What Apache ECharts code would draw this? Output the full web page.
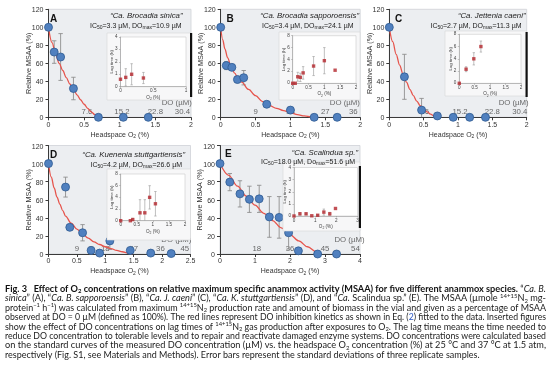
<!DOCTYPE html>
<html><head><meta charset="utf-8">
<script src="https://cdn.jsdelivr.net/npm/echarts@6/dist/echarts.min.js"></script>
<style>
html,body{margin:0;padding:0;background:#fff}
#wrap{position:relative;width:554px;height:366px}
#c{position:absolute;left:0;top:0;width:554px;height:366px}
#ov{position:absolute;left:0;top:0;width:554px;height:366px;pointer-events:none;z-index:5}
.tl{position:absolute;transform:translate(-100%,-50%);white-space:nowrap;line-height:1;font-family:"Liberation Sans",Arial,sans-serif}
</style>
</head><body><div id="wrap"><div id="c"></div><div id="ov"></div></div>
<script>
// ---------- DATA ----------
const msaaTicks = [0, 20, 40, 60, 80, 100, 120];
const lagTicks4 = [0, 1, 2, 3, 4];
const lagTicks8 = [0, 2, 4, 6, 8];

// Panel A  "Ca. Brocadia sinica"
const aO2 = [0, 0.08, 0.17, 0.35, 0.70, 1.05, 1.40];
const aMsaa = [100, 72.5, 67, 32, 0, 0, 0];
const aErr = [0, 12.5, 26, 12.5, 0, 0, 0];
const aCurveO2 = [0, 0.05, 0.1, 0.15, 0.2, 0.25, 0.3, 0.35, 0.4, 0.45, 0.5, 0.55, 0.6, 0.65, 0.7, 0.72];
const aCurve = [100, 83, 70, 60, 52, 44, 37, 31, 25, 19.5, 14.5, 10, 6, 3, 0.8, 0];
const aLagO2 = [0, 0.08, 0.17, 0.35];
const aLag = [0.6, 0.75, 1.0, 0.7];
const aLagErr = [0, 0.7, 0.85, 0.45];
const aDoX = [0.54, 1.03, 1.5, 1.88];
const aDoLabels = ['7.6', '15.2', '22.8', '30.4'];

// Panel B  "Ca. Brocadia sapporoensis"
const bO2 = [0, 0.08, 0.16, 0.24, 0.33, 0.66, 1.0, 1.34, 1.67];
const bMsaa = [100, 57.5, 55.5, 42, 44, 14.5, 8, 0, 0];
const bErr = [0, 4.5, 2.5, 3.5, 8, 2.5, 2, 0, 0];
const bCurveO2 = [0, 0.03, 0.06, 0.1, 0.15, 0.2, 0.25, 0.3, 0.4, 0.5, 0.6, 0.7, 0.8, 0.9, 1.0, 1.1, 1.2, 1.3, 1.34];
const bCurve = [100, 86, 76, 66, 56, 49, 43.5, 39, 31, 24, 17.5, 13, 10, 7.5, 5, 3, 1.5, 0.4, 0];
const bLagO2 = [0, 0.08, 0.16, 0.24, 0.33, 0.66, 1.0, 1.34];
const bLag = [0, 0, 1.1, 1.0, 1.75, 2.9, 3.8, 2.2];
const bLagErr = [0, 0, 0.75, 0.7, 1.05, 1.6, 2.2, 0];
const bDoX = [0.5, 1.0, 1.5, 1.9];
const bDoLabels = ['9', '18', '27', '36'];

// Panel C  "Ca. Jettenia caeni"
const cO2 = [0, 0.22, 0.47, 0.70, 0.93, 1.17, 1.40];
const cMsaa = [100, 45, 8, 1.5, 0, 0, 0];
const cErr = [0, 25, 13, 0, 0, 0, 0];
const cCurveO2 = [0, 0.05, 0.1, 0.15, 0.2, 0.25, 0.3, 0.35, 0.4, 0.45, 0.5, 0.55, 0.6, 0.65, 0.7, 0.75];
const cCurve = [100, 84, 70, 58, 48, 39, 31, 24, 18, 13, 9, 6, 3.5, 1.8, 0.6, 0];
const cLagO2 = [0, 0.22, 0.47, 0.70];
const cLag = [0, 2.3, 4.0, 6.0];
const cLagErr = [0, 0.4, 1.0, 0.9];
const cDoX = [0.5, 1.03, 1.5, 1.9];
const cDoLabels = ['7.6', '15.2', '22.8', '30.4'];

// Panel D  "Ca. Kuenenia stuttgartiensis"
const dO2 = [0, 0.30, 0.375, 0.60, 0.75, 0.90, 1.08, 1.44, 1.80, 2.16];
const dMsaa = [100, 74, 29.5, 23.5, 4, 1, 14.5, 4, 1, 0.5];
const dErr = [0, 11, 3, 9, 4, 0, 9.5, 2, 0, 0];
const dCurveO2 = [0, 0.05, 0.1, 0.15, 0.2, 0.25, 0.3, 0.4, 0.5, 0.6, 0.7, 0.8, 0.9, 1.0, 1.1, 1.2, 1.3, 1.4, 1.48];
const dCurve = [100, 85, 73, 63, 55, 48, 42, 34, 27.5, 22, 17.5, 13.5, 10.5, 8, 6, 4, 2.5, 1, 0];
const dLagO2 = [0, 0.30, 0.375, 0.60, 0.75, 0.90, 1.08];
const dLag = [0, 0, 0.2, 1.35, 1.35, 4.0, 2.9];
const dLagErr = [0, 0, 0.2, 2.25, 2.25, 2.0, 2.1];
const dDoX = [0.5, 1.0, 1.5, 1.97, 2.4];
const dDoLabels = ['9', '18', '27', '36', '45'];

// Panel E  "Ca. Scalindua sp."
const eO2 = [0, 0.28, 0.57, 0.84, 1.12, 1.41, 1.69, 1.96, 2.24, 2.79, 3.33];
const eMsaa = [100, 79.5, 66.5, 60.5, 61, 41, 40.5, 23.5, 3.5, 0, 0];
const eErr = [0, 9.5, 14.5, 14.5, 15, 22.5, 23, 18, 3, 0, 0];
const eCurveO2 = [0, 0.25, 0.5, 0.75, 1.0, 1.25, 1.5, 1.75, 2.0, 2.25, 2.5, 2.75, 2.87];
const eCurve = [100, 87, 75, 64, 54, 45, 37, 29, 21.5, 14.5, 8, 2.5, 0];
const eLagO2 = [0, 0.28, 0.57, 0.84, 1.12, 1.41, 1.69, 1.96];
const eLag = [0, 0.18, 0.18, 0.02, 0.06, 0.32, 0.18, 0.62];
const eLagErr = [0, 0.1, 0.08, 0, 0.05, 0.25, 0.12, 0];
const eDoX = [1.05, 2.0, 3.0, 3.87];
const eDoLabels = ['18', '36', '45', '54'];

// ---------- LAYOUT / STYLE ----------
const FONT = '"Liberation Sans", Arial, sans-serif';
const CAPFONT = 'Lato, "Liberation Sans", sans-serif';
const DO_NUM_Y = 6;

const panels = [
  {o2:aO2, v:aMsaa, e:aErr, cx:aCurveO2, cy:aCurve, lx:aLagO2, ly:aLag, le:aLagErr, dx:aDoX, dl:aDoLabels, doAt:[1.8,15.5],
   xmax:2, xint:0.5, ixmax:1, ixint:0.5, iymax:4, iyint:1, iticks:lagTicks4,
   grid:{left:48.5,top:9.3,width:142.5,height:108}, igrid:{left:120.5,top:37,width:65.5,height:49.7},
   box:[107,33,84,67], bar:[190,33,2.2,64],
   letter:'A', letterAt:[50,19.5], species:'“Ca. Brocadia sinica”', spAt:[182.5,16],
   ic:'IC{s|50}=3.3 µM, DO{s|max}=10.9 µM', icAt:[181.5,26]},
  {o2:bO2, v:bMsaa, e:bErr, cx:bCurveO2, cy:bCurve, lx:bLagO2, ly:bLag, le:bLagErr, dx:bDoX, dl:bDoLabels, doAt:[1.78,15.5],
   xmax:2, xint:0.5, ixmax:2, ixint:0.5, iymax:8, iyint:2, iticks:lagTicks8,
   grid:{left:220.7,top:9.3,width:139.5,height:108}, igrid:{left:292.7,top:35.7,width:63.3,height:47.6},
   box:[279,32,81,68], bar:null,
   letter:'B', letterAt:[226.5,19.5], species:'“Ca. Brocadia sapporoensis”', spAt:[359,16],
   ic:'IC{s|50}=3.4 µM, DO{s|max}=24.1 µM', icAt:[353.5,26]},
  {o2:cO2, v:cMsaa, e:cErr, cx:cCurveO2, cy:cCurve, lx:cLagO2, ly:cLag, le:cLagErr, dx:cDoX, dl:cDoLabels, doAt:[1.81,15.5],
   xmax:2, xint:0.5, ixmax:2, ixint:0.5, iymax:8, iyint:2, iticks:lagTicks8,
   grid:{left:389.3,top:9.3,width:137.4,height:108}, igrid:{left:459.3,top:34.3,width:61.7,height:49},
   box:[445,31,81.7,65], bar:[525.5,32,2.2,65],
   letter:'C', letterAt:[395,19.5], species:'“Ca. Jettenia caeni”', spAt:[525.5,16],
   ic:'IC{s|50}=2.7 µM, DO{s|max}=11.3 µM', icAt:[521.5,26]},
  {o2:dO2, v:dMsaa, e:dErr, cx:dCurveO2, cy:dCurve, lx:dLagO2, ly:dLag, le:dLagErr, dx:dDoX, dl:dDoLabels, doAt:[2.25,16],
   xmax:2.5, xint:0.5, ixmax:2, ixint:0.5, iymax:8, iyint:2, iticks:lagTicks8,
   grid:{left:48.5,top:145.5,width:142,height:108.5}, igrid:{left:120.7,top:174,width:64.3,height:46.7},
   box:[107,169,83.5,71], bar:null,
   letter:'D', letterAt:[50,155.5], species:'“Ca. Kuenenia stuttgartiensis”', spAt:[185,155],
   ic:'IC{s|50}=4.2 µM, DO{s|max}=26.6 µM', icAt:[182,165]},
  {o2:eO2, v:eMsaa, e:eErr, cx:eCurveO2, cy:eCurve, lx:eLagO2, ly:eLag, le:eLagErr, dx:eDoX, dl:eDoLabels, doAt:[3.7,16],
   xmax:4, xint:1, ixmax:3, ixint:1, iymax:4, iyint:1, iticks:lagTicks4,
   grid:{left:220,top:145.5,width:140,height:108.5}, igrid:{left:294,top:167.5,width:63.5,height:48.5},
   box:[283,162,77,69], bar:[358.8,166,2.2,62],
   letter:'E', letterAt:[225,154.5], species:'“Ca. Scalindua sp.”', spAt:[358,153],
   ic:'IC{s|50}=18.0 µM, Do{s|max}=51.6 µM', icAt:[355,162]}
];

function errRender(cap, color, w) {
  return function (params, api) {
    const x = api.value(0), y = api.value(1), e = api.value(2);
    if (!e) return {type: 'group', children: []};
    const t = api.coord([x, y + e]), b = api.coord([x, y - e]);
    const st = {stroke: color, lineWidth: w};
    return {type: 'group', children: [
      {type: 'line', shape: {x1: t[0], y1: t[1], x2: b[0], y2: b[1]}, style: st},
      {type: 'line', shape: {x1: t[0] - cap, y1: t[1], x2: t[0] + cap, y2: t[1]}, style: st},
      {type: 'line', shape: {x1: b[0] - cap, y1: b[1], x2: b[0] + cap, y2: b[1]}, style: st}
    ]};
  };
}

const subRich = (fs) => ({s: {fontSize: fs, lineHeight: fs, verticalAlign: 'bottom', fontFamily: FONT, color: '#333', fill: '#333'}});

const grids = [], xAxes = [], yAxes = [], series = [], graphics = [];
const AX = '#3a3a3a';

panels.forEach((p, i) => {
  grids.push(Object.assign({show: true, backgroundColor: '#eceef1', borderColor: '#cfd2d7', borderWidth: 0.8}, p.grid));
  xAxes.push({type: 'value', gridIndex: i, min: 0, max: p.xmax, interval: p.xint,
    axisLine: {show: true, onZero: false, lineStyle: {color: AX, width: 1}},
    axisTick: {show: true, length: 3, lineStyle: {color: AX}}, splitLine: {show: false},
    axisLabel: {fontSize: 7, color: '#333', margin: 4, fontFamily: FONT},
    name: 'Headspace O{s|2} (%)', nameLocation: 'middle', nameGap: 13,
    nameTextStyle: {fontSize: 7, color: '#333', fontFamily: FONT, lineHeight: 9, rich: subRich(5)}});
  yAxes.push({type: 'value', gridIndex: i, min: 0, max: 120, interval: 20,
    axisLine: {show: true, lineStyle: {color: AX, width: 1}},
    axisTick: {show: true, length: 3, lineStyle: {color: AX}}, splitLine: {show: false},
    axisLabel: {show: false},
    name: 'Relative MSAA (%)', nameLocation: 'middle', nameGap: 16, nameRotate: 90,
    nameTextStyle: {fontSize: 7.2, color: '#333', fontFamily: FONT}});
  series.push({type: 'custom', xAxisIndex: i, yAxisIndex: i, clip: true, silent: true, z: 2,
    renderItem: errRender(2.2, '#8e8e8e', 0.9), encode: {x: 0, y: 1},
    data: p.o2.map((x, k) => [x, p.v[k], p.e[k]])});
  series.push({type: 'scatter', xAxisIndex: i, yAxisIndex: i, symbolSize: 0, silent: true, z: 1,
    label: {show: true, position: 'inside', formatter: '{b}', fontSize: 7.8, color: '#444', fontFamily: FONT},
    data: p.dx.map((x, k) => ({value: [x, DO_NUM_Y], name: p.dl[k]})).concat([{value: p.doAt, name: 'DO (µM)'}])});
  series.push({type: 'line', xAxisIndex: i, yAxisIndex: i, symbol: 'none', smooth: 0.35, smoothMonotone: 'x', silent: true, z: 3,
    lineStyle: {color: '#e6544c', width: 1.3}, data: p.cx.map((x, k) => [x, p.cy[k]])});
  series.push({type: 'scatter', xAxisIndex: i, yAxisIndex: i, symbolSize: 8, silent: true, z: 4,
    itemStyle: {color: '#5080bf', borderColor: '#2f5a92', borderWidth: 0.8, opacity: 1},
    data: p.o2.map((x, k) => [x, p.v[k]])});
  graphics.push({type: 'rect', z: 5, shape: {x: p.box[0], y: p.box[1], width: p.box[2], height: p.box[3]},
    style: {fill: '#f7f7f8', stroke: '#d6d6d6', lineWidth: 0.6}});
  if (p.bar) graphics.push({type: 'rect', z: 10, shape: {x: p.bar[0], y: p.bar[1], width: p.bar[2], height: p.bar[3]}, style: {fill: '#111'}});
  graphics.push({type: 'text', z: 10, x: p.letterAt[0], y: p.letterAt[1],
    style: {text: p.letter, fontSize: 10, fontWeight: 'bold', fontFamily: FONT, fill: '#111', align: 'left', verticalAlign: 'middle'}});
  graphics.push({type: 'text', z: 10, x: p.spAt[0], y: p.spAt[1],
    style: {text: p.species, fontSize: 7.8, fontStyle: 'italic', fontFamily: FONT, fill: '#222', align: 'right', verticalAlign: 'middle'}});
  graphics.push({type: 'text', z: 10, x: p.icAt[0], y: p.icAt[1],
    style: {text: p.ic, fontSize: 7, fontFamily: FONT, fill: '#222', align: 'right', verticalAlign: 'middle', lineHeight: 9,
      rich: {s: {fontSize: 5, lineHeight: 5, verticalAlign: 'bottom', fontFamily: FONT, fill: '#222'}}}});
});

panels.forEach((p, i) => {
  const j = 5 + i;
  grids.push(Object.assign({show: true, backgroundColor: '#ffffff', borderColor: '#c9c9c9', borderWidth: 0.6, z: 6}, p.igrid));
  xAxes.push({type: 'value', gridIndex: j, min: 0, max: p.ixmax, interval: p.ixint, z: 6,
    axisLine: {show: true, onZero: false, lineStyle: {color: '#9a9a9a', width: 0.6}},
    axisTick: {show: true, length: 1.5, lineStyle: {color: '#9a9a9a', width: 0.6}}, splitLine: {show: false},
    axisLabel: {fontSize: 4.6, color: '#444', margin: 2, fontFamily: FONT},
    name: 'O{s|2} (%)', nameLocation: 'middle', nameGap: 7,
    nameTextStyle: {fontSize: 4.6, color: '#444', fontFamily: FONT, lineHeight: 6, rich: {s: {fontSize: 3.4, lineHeight: 3.4, verticalAlign: 'bottom', fontFamily: FONT, fill: '#444'}}}});
  yAxes.push({type: 'value', gridIndex: j, min: 0, max: p.iymax, interval: p.iyint, z: 6,
    axisLine: {show: true, lineStyle: {color: '#9a9a9a', width: 0.6}},
    axisTick: {show: true, length: 1.5, lineStyle: {color: '#9a9a9a', width: 0.6}}, splitLine: {show: false},
    axisLabel: {show: false},
    name: 'Lag time (h)', nameLocation: 'middle', nameGap: 7, nameRotate: 90,
    nameTextStyle: {fontSize: 4.4, color: '#444', fontFamily: FONT}});
  series.push({type: 'custom', xAxisIndex: j, yAxisIndex: j, clip: true, silent: true, z: 7,
    renderItem: errRender(1.2, '#a3a3a3', 0.7), encode: {x: 0, y: 1},
    data: p.lx.map((x, k) => [x, p.ly[k], p.le[k]])});
  series.push({type: 'scatter', xAxisIndex: j, yAxisIndex: j, symbol: 'rect', symbolSize: 3.4, silent: true, z: 8,
    itemStyle: {color: '#b3262c'}, data: p.lx.map((x, k) => [x, p.ly[k]])});
});

// ---------- CAPTION ----------
const capLines = [
  [['b','Fig. 3   Effect of O'],['bsub','2'],['b',' concentrations on relative maximum specific anammox activity (MSAA) for five different anammox species.'],['n',' “'],['i','Ca. B.']],
  [['i','sinica'],['n','” (A), “'],['i','Ca. B. sapporoensis'],['n','” (B), “'],['i','Ca. J. caeni'],['n','” (C), “'],['i','Ca. K. stuttgartiensis'],['n','” (D), and “'],['i','Ca.'],['n',' Scalindua sp.” (E). The MSAA (µmole '],['sup','14+15'],['n','N'],['sub','2'],['n',' mg-']],
  [['n','protein'],['sup','−1'],['n',' h'],['sup','−1'],['n',') was calculated from maximum '],['sup','14+15'],['n','N'],['sub','2'],['n',' production rate and amount of biomass in the vial and given as a percentage of MSAA']],
  [['n','observed at DO = 0 µM (defined as 100%). The red lines represent DO inhibition kinetics as shown in Eq. ('],['l','2'],['n',') fitted to the data. Inserted figures']],
  [['n','show the effect of DO concentrations on lag times of '],['sup','14+15'],['n','N'],['sub','2'],['n',' gas production after exposures to O'],['sub','2'],['n','. The lag time means the time needed to']],
  [['n','reduce DO concentration to tolerable levels and to repair and reactivate damaged enzyme systems. DO concentrations were calculated based']],
  [['n','on the standard curves of the measured DO concentration (µM) vs. the headspace O'],['sub','2'],['n',' concentration (%) at 25 °C and 37 °C at 1.5 atm,']],
  [['n','respectively (Fig. S1, see Materials and Methods). Error bars represent the standard deviations of three replicate samples.']]
];
const CS = 8.6, SS = 5.6, CLH = 11;
const capRich = {
  n: {fontSize: CS, fontFamily: CAPFONT, fill: '#1b1b1b', lineHeight: CLH},
  b: {fontSize: CS, fontFamily: CAPFONT, fontWeight: 'bold', fill: '#111', lineHeight: CLH},
  i: {fontSize: CS, fontFamily: CAPFONT, fontStyle: 'italic', fill: '#1b1b1b', lineHeight: CLH},
  l: {fontSize: CS, fontFamily: CAPFONT, fill: '#2a57c6', lineHeight: CLH},
  sup: {fontSize: SS, fontFamily: CAPFONT, fill: '#1b1b1b', lineHeight: SS, verticalAlign: 'top'},
  sub: {fontSize: SS, fontFamily: CAPFONT, fill: '#1b1b1b', lineHeight: SS, verticalAlign: 'bottom'},
  bsub: {fontSize: SS, fontFamily: CAPFONT, fontWeight: 'bold', fill: '#111', lineHeight: SS, verticalAlign: 'bottom'}
};
const mctx = document.createElement('canvas').getContext('2d');
function lineWidth(segs) {
  let w = 0;
  segs.forEach(([k, t]) => {
    const s = capRich[k];
    mctx.font = (s.fontStyle || 'normal') + ' ' + (s.fontWeight || 'normal') + ' ' + s.fontSize + 'px ' + CAPFONT;
    w += mctx.measureText(t).width;
  });
  return w;
}
const CAP_X = 5, CAP_W = 541, CAP_Y0 = 289, CAP_DY = 9.45;
const scales = capLines.map(l => CAP_W / lineWidth(l));
const avgScale = scales.slice(0, 7).reduce((a, b) => a + b, 0) / 7;
capLines.forEach((segs, k) => {
  const s = k < 7 ? scales[k] : avgScale;
  graphics.push({type: 'text', z: 10, x: CAP_X, y: CAP_Y0 + k * CAP_DY, scaleX: s,
    style: {text: segs.map(([st, t]) => '{' + st + '|' + t + '}').join(''), rich: capRich,
      fontSize: CS, fontFamily: CAPFONT, fill: '#1b1b1b', align: 'left', verticalAlign: 'middle', lineHeight: CLH}});
});

const chart = echarts.init(document.getElementById('c'), null, {renderer: 'canvas'});
chart.setOption({
  animation: false,
  backgroundColor: '#ffffff',
  grid: grids, xAxis: xAxes, yAxis: yAxes, series: series,
  graphic: {elements: graphics}
});

// y tick labels: positioned through each grid's own y scale (convertToPixel), drawn as an overlay
const ov = document.getElementById('ov');
function addTick(gridIdx, v, gap, size, color, g) {
  let pt = chart.convertToPixel({gridIndex: gridIdx}, [0, v]);
  if (!pt || !isFinite(pt[0]) || !isFinite(pt[1])) {
    pt = [g.left, g.top + g.height * (1 - v / g.max)];
  }
  const el = document.createElement('div');
  el.className = 'tl';
  el.textContent = String(v);
  el.style.left = (pt[0] - gap) + 'px';
  el.style.top = pt[1] + 'px';
  el.style.fontSize = size + 'px';
  el.style.color = color;
  ov.appendChild(el);
}
panels.forEach((p, i) => {
  msaaTicks.forEach(v => addTick(i, v, 5, 7, '#333', Object.assign({max: 120}, p.grid)));
  p.iticks.forEach(v => addTick(5 + i, v, 3, 4.6, '#444', Object.assign({max: p.iymax}, p.igrid)));
});
</script></body></html>
